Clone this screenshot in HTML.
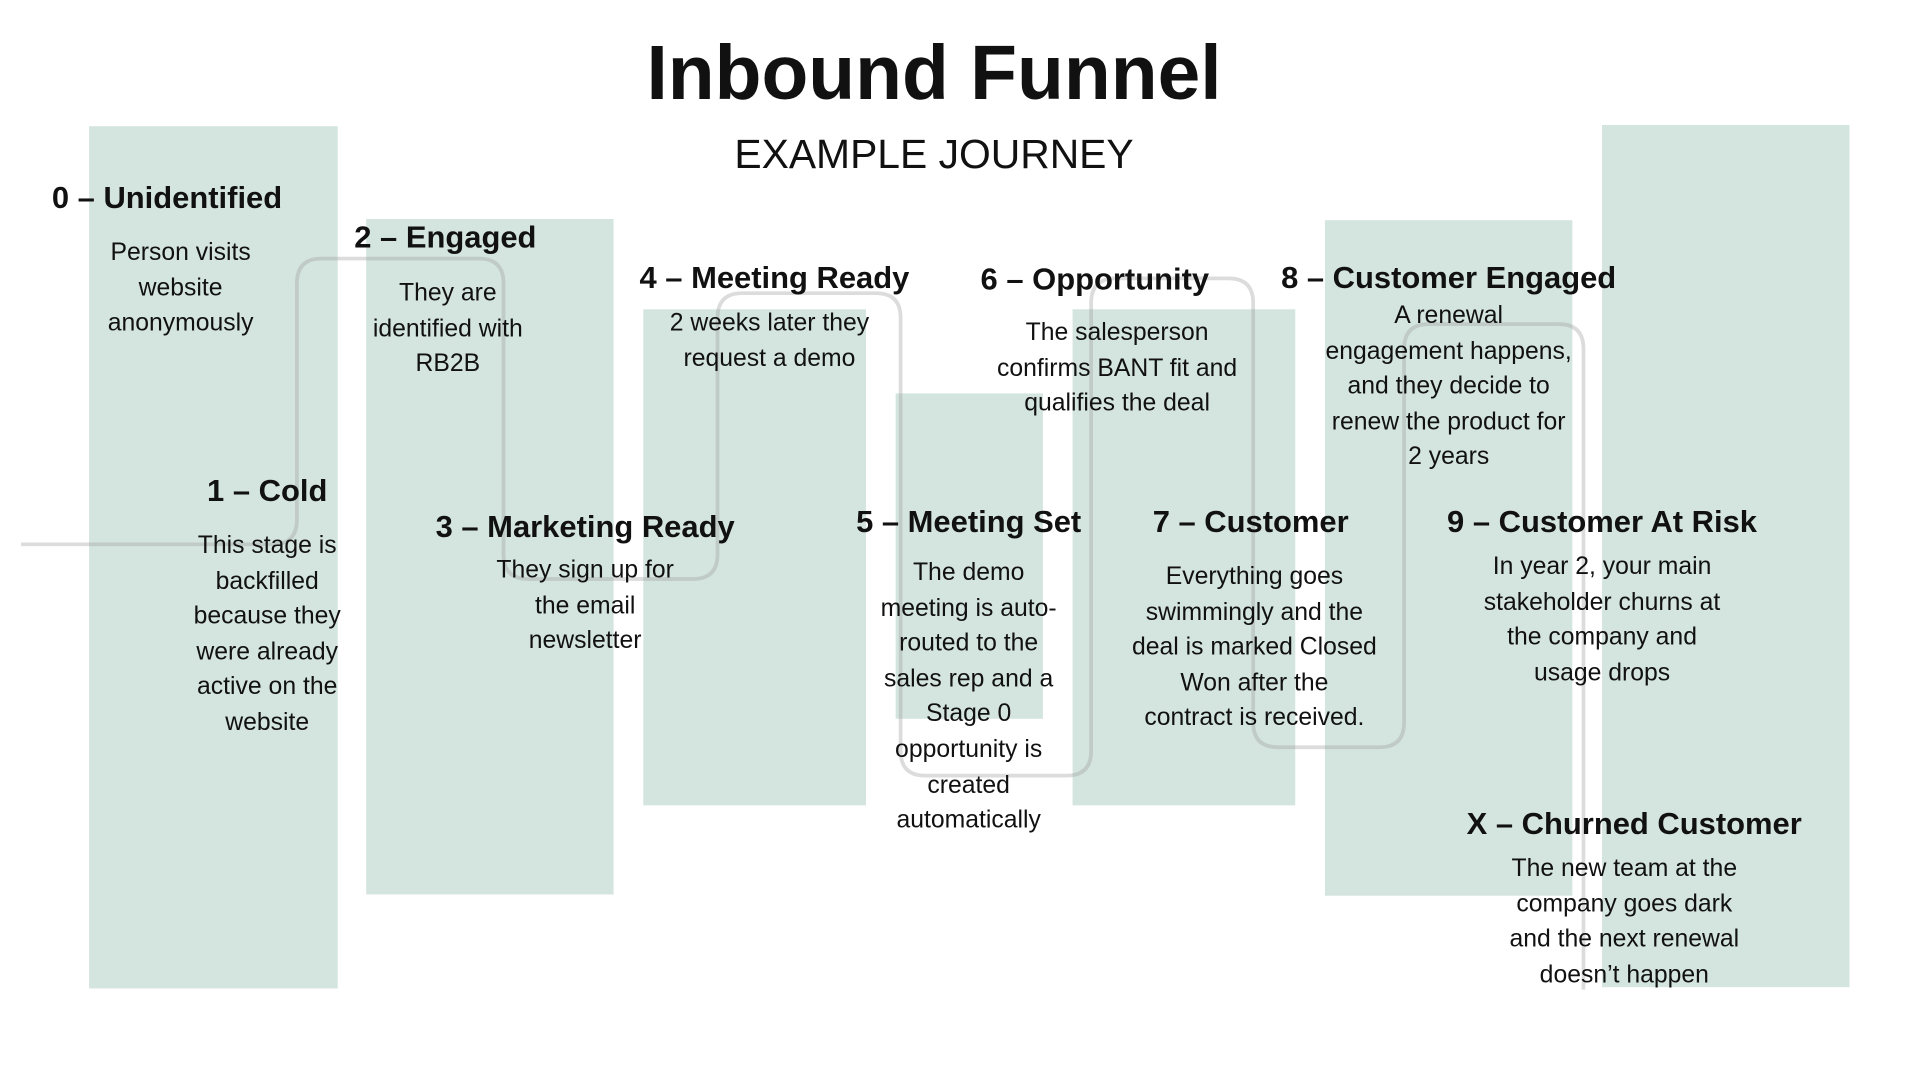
<!DOCTYPE html>
<html><head><meta charset="utf-8"><style>
html,body{margin:0;padding:0;background:#fff;}
body{width:1920px;height:1080px;overflow:hidden;position:relative;}
#w{position:absolute;left:0;top:0;width:1552px;height:873px;transform:scale(1.2371);transform-origin:0 0;font-family:"Liberation Sans",sans-serif;color:#111;}
.b{position:absolute;background:#d4e4df;}
.t{position:absolute;width:400px;text-align:center;font-weight:bold;font-size:25px;line-height:30px;white-space:nowrap;}
.d{position:absolute;width:400px;text-align:center;font-size:20px;line-height:28.6px;}
</style></head><body><div id="w">
<div class="b" style="left:72px;top:102px;width:201px;height:697px"></div>
<div class="b" style="left:296px;top:177px;width:200px;height:546px"></div>
<div class="b" style="left:520px;top:250px;width:180px;height:401px"></div>
<div class="b" style="left:724px;top:318px;width:119px;height:263px"></div>
<div class="b" style="left:867px;top:250px;width:180px;height:401px"></div>
<div class="b" style="left:1071px;top:178px;width:200px;height:546px"></div>
<div class="b" style="left:1295px;top:101px;width:200px;height:697px"></div>
<svg style="position:absolute;left:0;top:0" width="1552" height="873">
<path d="M17 440 H220 Q240 440 240 420 V229 Q240 209 260 209 H387 Q407 209 407 229 V448 Q407 468 427 468 H560 Q580 468 580 448 V257 Q580 237 600 237 H708 Q728 237 728 257 V607 Q728 627 748 627 H862 Q882 627 882 607 V245 Q882 225 902 225 H993 Q1013 225 1013 245 V584 Q1013 604 1033 604 H1115 Q1135 604 1135 584 V282 Q1135 262 1155 262 H1260 Q1280 262 1280 282 V800" fill="none" stroke="#9a9a9a" stroke-opacity="0.35" stroke-width="3"/>
</svg>
<div style="position:absolute;left:355px;top:22px;width:800px;text-align:center;font-weight:bold;font-size:62px;line-height:76px">Inbound Funnel</div>
<div style="position:absolute;left:355px;top:104px;width:800px;text-align:center;font-size:33px;line-height:42px">EXAMPLE JOURNEY</div>

<div class="t" style="left:-65px;top:145px">0 – Unidentified</div>
<div class="d" style="left:-54px;top:190px">Person visits<br>website<br>anonymously</div>
<div class="t" style="left:16px;top:382px">1 – Cold</div>
<div class="d" style="left:16px;top:427px">This stage is<br>backfilled<br>because they<br>were already<br>active on the<br>website</div>
<div class="t" style="left:160px;top:177px">2 – Engaged</div>
<div class="d" style="left:162px;top:223px">They are<br>identified with<br>RB2B</div>
<div class="t" style="left:273px;top:411px">3 – Marketing Ready</div>
<div class="d" style="left:273px;top:447px">They sign up for<br>the email<br>newsletter</div>
<div class="t" style="left:426px;top:210px">4 – Meeting Ready</div>
<div class="d" style="left:422px;top:247px">2 weeks later they<br>request a demo</div>
<div class="t" style="left:583px;top:407px">5 – Meeting Set</div>
<div class="d" style="left:583px;top:449px">The demo<br>meeting is auto-<br>routed to the<br>sales rep and a<br>Stage 0<br>opportunity is<br>created<br>automatically</div>
<div class="t" style="left:685px;top:211px">6 – Opportunity</div>
<div class="d" style="left:703px;top:255px">The salesperson<br>confirms BANT fit and<br>qualifies the deal</div>
<div class="t" style="left:811px;top:407px">7 – Customer</div>
<div class="d" style="left:814px;top:452px">Everything goes<br>swimmingly and the<br>deal is marked Closed<br>Won after the<br>contract is received.</div>
<div class="t" style="left:971px;top:210px">8 – Customer Engaged</div>
<div class="d" style="left:971px;top:241px">A renewal<br>engagement happens,<br>and they decide to<br>renew the product for<br>2 years</div>
<div class="t" style="left:1095px;top:407px">9 – Customer At Risk</div>
<div class="d" style="left:1095px;top:444px">In year 2, your main<br>stakeholder churns at<br>the company and<br>usage drops</div>
<div class="t" style="left:1121px;top:651px">X – Churned Customer</div>
<div class="d" style="left:1113px;top:688px">The new team at the<br>company goes dark<br>and the next renewal<br>doesn’t happen</div>
</div></body></html>
